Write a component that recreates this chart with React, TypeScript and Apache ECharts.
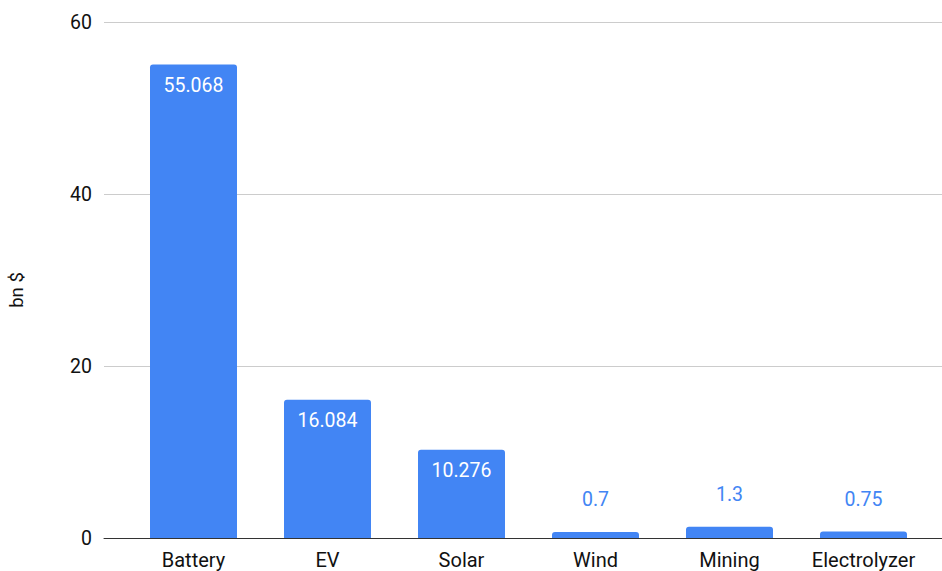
import React, { useEffect, useRef } from "react";
import * as echarts from "echarts";

const categories = ["Battery", "EV", "Solar", "Wind", "Mining", "Electrolyzer"];
const values = [55.068, 16.084, 10.276, 0.7, 1.3, 0.75];
const valueLabels = ["55.068", "16.084", "10.276", "0.7", "1.3", "0.75"];
const yTicks = [0, 20, 40, 60];

const BLUE = "#4285F4";
const FONT = "Roboto, 'Noto Sans', sans-serif";

export default function App() {
  const ref = useRef<HTMLDivElement>(null);

  useEffect(() => {
    if (!ref.current) return;
    const chart = echarts.init(ref.current, undefined, { renderer: "svg" });
    const yMin = yTicks[0];
    const yMax = yTicks[yTicks.length - 1];
    const yStep = yTicks[1] - yTicks[0];

    chart.setOption({
      animation: false,
      backgroundColor: "#ffffff",
      textStyle: { fontFamily: FONT },
      grid: [
        { left: 104, right: 0, top: 22, bottom: 33 },
        { left: 126.5, right: 11.5, top: 22, bottom: 33 },
      ],
      xAxis: [
        {
          gridIndex: 0,
          type: "category",
          data: [""],
          axisLine: { show: true, lineStyle: { color: "#333333", width: 1 } },
          axisTick: { show: false },
          axisLabel: { show: false },
        },
        {
          gridIndex: 1,
          type: "category",
          data: categories,
          axisLine: { show: false },
          axisTick: { show: false },
          axisLabel: {
            color: "#111111",
            fontSize: 20,
            fontFamily: FONT,
            margin: 12,
            interval: 0,
          },
        },
      ],
      yAxis: [
        {
          gridIndex: 0,
          type: "value",
          min: yMin,
          max: yMax,
          interval: yStep,
          axisLine: { show: false },
          axisTick: { show: false },
          splitLine: { lineStyle: { color: "#cccccc", width: 1 } },
          axisLabel: {
            color: "#111111",
            fontSize: 19.5,
            fontFamily: FONT,
            margin: 12,
          },
        },
        {
          gridIndex: 1,
          type: "value",
          min: yMin,
          max: yMax,
          interval: yStep,
          show: false,
          splitLine: { show: false },
        },
      ],
      graphic: [
        {
          type: "text",
          x: 16.5,
          y: 290,
          rotation: Math.PI / 2,
          style: {
            text: "bn $",
            fill: "#111111",
            font: `18.5px ${FONT}`,
            align: "center",
            verticalAlign: "middle",
          },
        },
      ],
      series: [
        {
          type: "bar",
          xAxisIndex: 1,
          yAxisIndex: 1,
          barWidth: 87,
          itemStyle: { color: BLUE, borderRadius: [3, 3, 0, 0] },
          data: values.map((v, i) => {
            const inside = v > 5;
            return {
              value: v,
              label: {
                show: true,
                formatter: valueLabels[i],
                position: inside ? "insideTop" : "top",
                distance: inside ? 11 : 22,
                color: inside ? "#ffffff" : BLUE,
                fontSize: 19.5,
                fontFamily: FONT,
              },
            };
          }),
        },
      ],
    });
    return () => chart.dispose();
  }, []);

  return (
    <div
      ref={ref}
      style={{ position: "fixed", left: 0, top: 0, width: 942, height: 571 }}
    />
  );
}
